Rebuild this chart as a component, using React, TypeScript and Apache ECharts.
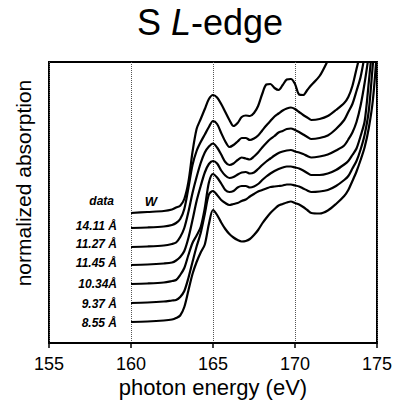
import React, { useEffect, useRef } from "react";
import * as echarts from "echarts";

// photon energy grid (eV)
const energy = [
  160, 161, 162, 162.5, 162.75, 163, 163.25, 163.5, 163.75, 164, 164.25, 164.5, 164.75,
  165, 165.25, 165.5, 165.75, 166, 166.25, 166.5, 166.75, 167, 167.25, 167.5, 167.75,
  168, 168.25, 168.5, 168.75, 169, 169.25, 169.5, 169.75, 170, 170.25, 170.5, 170.75,
  171, 171.5, 172, 172.5, 173, 173.25, 173.5, 173.75, 174, 174.25, 174.5, 174.75, 175,
];

// normalized absorption (offset for display)
const dataW = [
  13.0, 13.1, 13.2, 13.35, 13.55, 13.73, 14.4, 16.1, 19.1, 21.4, 22.4, 23.4, 24.4,
  24.8, 24.55, 23.9, 23.1, 22.3, 21.7, 22.0, 22.6, 22.75, 22.7, 23.0, 23.7,
  24.9, 25.85, 25.9, 25.5, 25.3, 25.8, 26.35, 26.4, 25.9, 24.85, 24.8, 25.3,
  25.8, 26.7, 28.25, 30, null, null, null, null, null, null, null, null, null,
];
const a1411 = [
  11.5, 11.55, 11.65, 11.8, 12.0, 12.4, 13.4, 15.5, 17.8, 19.2, 20.1, 20.85, 21.6,
  22.2, 21.9, 21.0, 20.15, 19.6, 19.8, 20.15, 20.5, 20.5, 20.3, 20.45, 20.75,
  21.25, 21.75, 22.2, 22.65, 22.95, 23.25, 23.45, 23.55, 23.4, 23.1, 22.8, 22.55,
  22.3, 22.4, 22.7, 23.3, 24.0, 24.6, 25.7, 27.4, 29.1, null, null, null, null,
];
const a1127 = [
  9.6, 9.65, 9.75, 9.9, 10.05, 10.6, 11.5, 13.1, 15.0, 16.6, 18.0, 19.05, 19.65,
  19.95, 19.55, 18.85, 18.1, 17.8, 17.95, 18.3, 18.55, 18.45, 18.35, 18.65, 19.05,
  19.55, 20.0, 20.4, 20.7, 21.05, 21.2, 21.4, 21.45, 21.3, 21.1, 20.85, 20.6,
  20.4, 20.5, 20.75, 21.4, 22.3, 23.1, 23.9, 25.2, 26.6, 28.8, null, null, null,
];
const a1145 = [
  7.8, 7.85, 7.95, 8.05, 8.25, 8.6, 9.2, 10.5, 12.3, 14.2, 15.7, 17.05, 17.9,
  18.2, 17.95, 17.25, 16.75, 16.5, 16.6, 16.85, 17.05, 17.1, 16.95, 17.05, 17.4,
  17.8, 18.15, 18.45, 18.75, 19.0, 19.15, 19.25, 19.3, 19.15, 19.05, 18.9, 18.7,
  18.55, 18.65, 18.85, 19.25, 19.75, 20.35, 21.05, 22.1, 23.75, 26.05, 28.8, null, null,
];
const a1034 = [
  5.9, 5.95, 6.05, 6.2, 6.3, 6.8, 7.5, 8.8, 10.0, 10.75, 11.6, 13.5, 16.05,
  16.9, 16.55, 15.95, 15.3, 15.1, 15.2, 15.55, 15.7, 15.7, 15.55, 15.65, 15.9,
  16.3, 16.65, 16.95, 17.2, 17.4, 17.55, 17.65, 17.65, 17.55, 17.45, 17.25, 17.0,
  16.8, 16.8, 16.95, 17.3, 17.85, 18.2, 18.8, 19.45, 20.7, 22.2, 26.1, 30.3, null,
];
const a937 = [
  4.0, 4.05, 4.15, 4.25, 4.3, 4.6, 5.2, 6.5, 8.1, 9.65, 11.0, 12.9, 14.85,
  15.2, 14.8, 14.3, 14.0, 13.8, 13.9, 14.0, 14.2, 14.35, 14.65, 14.9, 15.15,
  15.3, 15.45, 15.6, 15.65, 15.7, 15.75, 15.85, 15.85, 15.75, 15.65, 15.45, 15.25,
  15.1, 15.15, 15.3, 15.7, 16.3, 16.7, 17.45, 18.2, 19.35, 20.85, 23.25, 27.9, 32,
];
const a855 = [
  2.1, 2.15, 2.25, 2.35, 2.5, 2.75, 3.6, 5.25, 6.9, 8.1, 9.05, 9.85, 11.9,
  13.3, 12.8, 12.05, 11.4, 10.9, 10.55, 10.3, 10.15, 10.2, 10.4, 10.8, 11.3,
  11.95, 12.5, 13.0, 13.4, 13.75, 13.9, 14.05, 14.15, 14.0, 13.85, 13.6, 13.3,
  13.0, 12.95, 13.25, 13.9, 14.7, 15.3, 16.2, 17.15, 18.3, 19.6, 21.5, 24.3, 29.3,
];

const seriesNames = ["W", "14.11 Å", "11.27 Å", "11.45 Å", "10.34Å", "9.37 Å", "8.55 Å"];
const seriesValues = [dataW, a1411, a1127, a1145, a1034, a937, a855];
const xTicks = [155, 160, 165, 170, 175];

const FONT = '"Liberation Sans", Arial, Helvetica, sans-serif';

export default function App() {
  const ref = useRef<HTMLDivElement>(null);
  useEffect(() => {
    if (!ref.current) return;
    const chart = echarts.init(ref.current, null, { renderer: "svg" });

    const series = seriesValues.map((vals, k) => ({
      name: seriesNames[k],
      type: "line",
      data: energy
        .map((e, i) => [e, vals[i]])
        .filter((p) => p[1] !== null),
      showSymbol: false,
      symbol: "none",
      smooth: 0.3,
      clip: true,
      lineStyle: { color: "#000", width: 2.2 },
      silent: true,
    }));

    const labelYs = [226, 244, 263, 284, 304, 323];
    const labelTexts = seriesNames.slice(1).map((t, i) => ({
      type: "text",
      x: 117,
      y: labelYs[i],
      style: {
        text: t,
        fontSize: 12,
        fontWeight: "bold",
        fontStyle: "italic",
        fontFamily: FONT,
        fill: "#000",
        align: "right",
        verticalAlign: "middle",
      },
    }));

    chart.setOption({
      animation: false,
      backgroundColor: "#fff",
      grid: {
        left: 49,
        right: 19,
        top: 62,
        bottom: 60,
        show: true,
        borderColor: "#000",
        borderWidth: 2,
        backgroundColor: "transparent",
      },
      xAxis: {
        type: "value",
        min: xTicks[0],
        max: xTicks[xTicks.length - 1],
        interval: 5,
        axisLine: { show: true, lineStyle: { color: "#000", width: 2 } },
        axisTick: { show: true, length: 5, lineStyle: { color: "#000", width: 1.5 } },
        axisLabel: { color: "#000", fontSize: 18, fontFamily: FONT, margin: 12 },
        splitLine: { show: true, lineStyle: { color: "#555", width: 1, type: "dotted" } },
      },
      yAxis: {
        type: "value",
        min: 0,
        max: 28.1,
        show: false,
        splitLine: { show: false },
      },
      series,
      graphic: [
        {
          type: "text",
          x: 210,
          y: 22,
          style: {
            text: "{n|S }{i|L}{n|-edge}",
            align: "center",
            verticalAlign: "middle",
            fill: "#000",
            rich: {
              n: { fontSize: 36, fontFamily: FONT, fill: "#000", color: "#000" },
              i: { fontSize: 36, fontFamily: FONT, fontStyle: "italic", fill: "#000", color: "#000" },
            },
          },
        },
        {
          type: "text",
          x: 23,
          y: 183,
          rotation: Math.PI / 2,
          style: {
            text: "normalized absorption",
            fontSize: 21,
            fontFamily: FONT,
            fill: "#000",
            align: "center",
            verticalAlign: "middle",
          },
        },
        {
          type: "text",
          x: 213,
          y: 387,
          style: {
            text: "photon energy (eV)",
            fontSize: 22,
            fontFamily: FONT,
            fill: "#000",
            align: "center",
            verticalAlign: "middle",
          },
        },
        {
          type: "text",
          x: 114,
          y: 201,
          style: {
            text: "data",
            fontSize: 12,
            fontWeight: "bold",
            fontStyle: "italic",
            fontFamily: FONT,
            fill: "#000",
            align: "right",
            verticalAlign: "middle",
          },
        },
        {
          type: "text",
          x: 151,
          y: 201,
          style: {
            text: "W",
            fontSize: 13,
            fontWeight: "bold",
            fontStyle: "italic",
            fontFamily: FONT,
            fill: "#000",
            align: "center",
            verticalAlign: "middle",
          },
        },
        ...labelTexts,
      ],
    });
    return () => chart.dispose();
  }, []);
  return (
    <div
      ref={ref}
      style={{ position: "fixed", left: 0, top: 0, width: 396, height: 403 }}
    />
  );
}
